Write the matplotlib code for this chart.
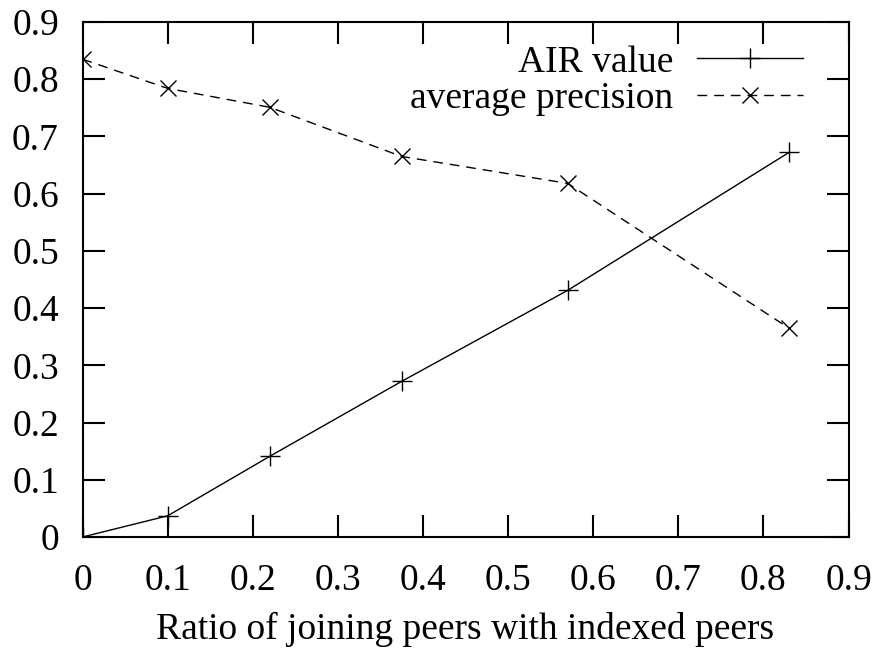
import matplotlib
matplotlib.use("Agg")
from matplotlib import pyplot as plt

# ratio of joining peers with indexed peers
ratio = [0.0, 0.1, 0.22, 0.375, 0.57, 0.83]
air_value = [0.0, 0.037, 0.141, 0.272, 0.431, 0.672]
avg_precision = [0.835, 0.784, 0.751, 0.665, 0.618, 0.365]

plt.rcParams['font.family'] = ['Liberation Serif', 'DejaVu Serif']
plt.rcParams['font.size'] = 27

fig = plt.figure(figsize=(8.73, 6.53), dpi=100)
ax = fig.add_axes([82.5 / 873, 1 - 537 / 653, 766 / 873, 515 / 653])

ax.plot(ratio, air_value, color='black', lw=1.0, marker='+', ms=15, mew=1.0,
        label='AIR value')
ax.plot(ratio, avg_precision, color='black', lw=1.0, ls=(0, (7, 5)),
        marker='x', ms=12, mew=1.0, label='average precision')

ax.set_xlim(0, 0.9)
ax.set_ylim(0, 0.9)
ticks = [i / 10 for i in range(10)]
ax.set_xticks(ticks)
ax.set_yticks(ticks)
ax.set_xticklabels(['0'] + ['%.1f' % t for t in ticks[1:]])
ax.set_yticklabels(['0'] + ['%.1f' % t for t in ticks[1:]])
ax.tick_params(direction='in', length=16, width=1.5, top=True, right=True,
               labelsize=27)
ax.tick_params(axis='x', pad=19)
ax.tick_params(axis='y', pad=17)
for s in ax.spines.values():
    s.set_linewidth(1.5)

ax.set_xlabel('Ratio of joining peers with indexed peers', fontsize=27,
              labelpad=10)

ax.legend(loc='upper right', bbox_to_anchor=(803 / 873, 1 - 45 / 653),
          bbox_transform=fig.transFigure, borderaxespad=0, borderpad=0,
          frameon=False, markerfirst=False,
          handlelength=2.83, handletextpad=0.64, labelspacing=0.05,
          fontsize=27)

fig.savefig('out.png', dpi=100)
